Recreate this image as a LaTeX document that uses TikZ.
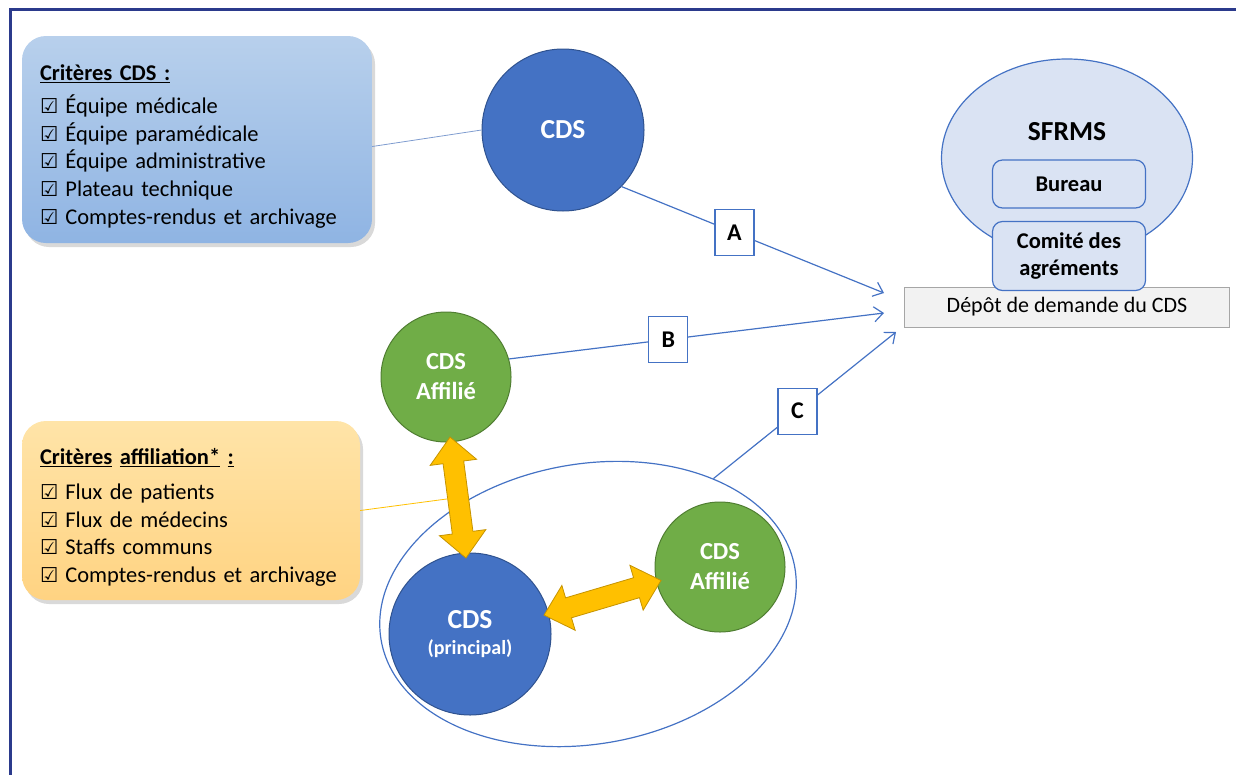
\documentclass[tikz,border=0pt]{standalone}
\usepackage{fontspec}
\setmainfont{Carlito}
\newfontfamily\symbfont{DejaVu Sans}
\usetikzlibrary{positioning, arrows.meta, calc, shapes.geometric, shapes.arrows, shadows}

\definecolor{framecol}{HTML}{2B3A8C}
\definecolor{cdsblue}{HTML}{4472C4}
\definecolor{cdsblueline}{HTML}{2F528F}
\definecolor{affgreen}{HTML}{70AD47}
\definecolor{affgreenline}{HTML}{507E32}
\definecolor{paleblue}{HTML}{DAE3F3}
\definecolor{fatorange}{HTML}{FFC000}
\definecolor{fatorangeline}{HTML}{C59300}
\definecolor{depotgray}{HTML}{F2F2F2}
\definecolor{depotline}{HTML}{A6A6A6}
\definecolor{boxbluetop}{HTML}{B8D0EC}
\definecolor{boxbluebot}{HTML}{8FB4E3}
\definecolor{boxorangetop}{HTML}{FFE4A8}
\definecolor{boxorangebot}{HTML}{FFD382}
\definecolor{linkgray}{HTML}{7F9CCF}

\newcommand{\chk}{{\symbfont\fontsize{20.5}{20}\selectfont\char"2611}\hspace{7pt}}

\begin{document}
\begin{tikzpicture}[
  x=1pt, y=-1pt,
  critbox/.style={rounded corners=24pt, inner xsep=18pt, inner ysep=0pt, align=left,
    drop shadow={opacity=0.3, shadow xshift=3pt, shadow yshift=-4pt},
    font=\fontsize{22.5}{27.7}\selectfont},
  cdsnode/.style={circle, draw=cdsblueline, fill=cdsblue, line width=1pt, inner sep=0pt,
    text=white, align=center, minimum size=162pt, font=\bfseries\fontsize{27.5}{30}\selectfont},
  affnode/.style={cdsnode, draw=affgreenline, fill=affgreen, minimum size=130pt,
    font=\bfseries\fontsize{24.5}{30}\selectfont},
  grpellipse/.style={ellipse, draw=cdsblue, line width=1.2pt, inner sep=0pt},
  orgbox/.style={rectangle, rounded corners=10pt, draw=cdsblue, line width=1.2pt, fill=paleblue,
    minimum width=153pt, align=center, font=\bfseries\fontsize{22.5}{27}\selectfont},
  letterbox/.style={rectangle, draw=cdsblue, line width=1.2pt, fill=white, minimum width=39pt,
    minimum height=46pt, inner sep=0pt, font=\bfseries\fontsize{24}{24}\selectfont},
  flow/.style={draw=cdsblue, line width=1.2pt, -{Straight Barb[length=9pt, width=15pt]}},
  fatarrow/.style={double arrow, draw=fatorangeline, fill=fatorange, line width=0.8pt,
    minimum height=122pt, double arrow head extend=13pt, double arrow tip angle=85,
    inner xsep=0pt, inner ysep=10pt}
]
\useasboundingbox (0,0) rectangle (1236,774);
\draw[framecol, line width=3pt] (1240,9.5) -- (10.5,9.5) -- (10.5,780);

% criteria boxes
\node[critbox, top color=boxbluetop, bottom color=boxbluebot, text width=314pt,
  minimum height=207pt] (critcds) at (197,139.5) {%
  \rule{0pt}{30pt}\underline{\textbf{Critères CDS :}}\\[5pt]
  \chk Équipe médicale\\
  \chk Équipe paramédicale\\
  \chk Équipe administrative\\
  \chk Plateau technique\\
  \chk Comptes-rendus et archivage};

\node[critbox, top color=boxorangetop, bottom color=boxorangebot, text width=302pt,
  minimum height=179pt] (critaff) at (191,510.5) {%
  \rule{0pt}{30pt}\textbf{\underline{Critères} \underline{affiliation*} \underline{:}}\\[7pt]
  \chk Flux de patients\\
  \chk Flux de médecins\\
  \chk Staffs communs\\
  \chk Comptes-rendus et archivage};

% SFRMS side
\node[rectangle, draw=depotline, fill=depotgray, line width=1pt, minimum width=325pt,
  minimum height=40pt, font=\fontsize{22}{22}\selectfont] (depot) at (1067,307)
  {Dépôt de demande du CDS};
\node[ellipse, draw=cdsblue, fill=paleblue, line width=1.2pt, inner sep=0pt,
  minimum width=251pt, minimum height=198pt] (sfrms) at (1067,158) {};
\node[font=\bfseries\fontsize{27.5}{27.5}\selectfont] (sfrmstitle) at (1067,132) {SFRMS};
\node[orgbox, minimum height=48pt] (bureau) at (1069,184) {Bureau};
\node[orgbox, minimum height=69pt] (comite) at (1069,256) {Comité des\\agréments};

\coordinate (tipA) at (884,293);
\coordinate (tipB) at (884,313);
\coordinate (tipC) at (896,332);

% CDS nodes
\node[cdsnode] (cds) at (563,130) {CDS};
\node[affnode] (affil1) at (446,377) {CDS\\Affilié};
\node[grpellipse, rotate=10, minimum width=420pt, minimum height=280pt] (grp) at (588,604) {};
\node[cdsnode] (princ) at (470,634) {CDS\\[-4pt]{\fontsize{20}{20}\selectfont(principal)}};
\node[affnode] (affil2) at (720,567) {CDS\\Affilié};

\node[fatarrow, rotate=-82.5] (fat1) at ($(affil1.south)!0.5!(princ.north)$) {};
\node[fatarrow, rotate=16.5] (fat2) at ($(princ.20)!0.5!(affil2.200)$) {};

% links
\draw[draw=linkgray, line width=0.8pt] ([yshift=-7pt]critcds.east) -- (cds.west);
\draw[draw=fatorange, line width=0.8pt] (critaff.east) -- (fat1.center);

\draw[flow] (cds.-44) -- node[letterbox, pos=0.43] {A} (tipA);
\draw[flow] (affil1.16) -- node[letterbox, pos=0.425] {B} (tipB);
\draw[flow] (grp.35) -- node[letterbox, pos=0.46] {C} (tipC);
\end{tikzpicture}
\end{document}
